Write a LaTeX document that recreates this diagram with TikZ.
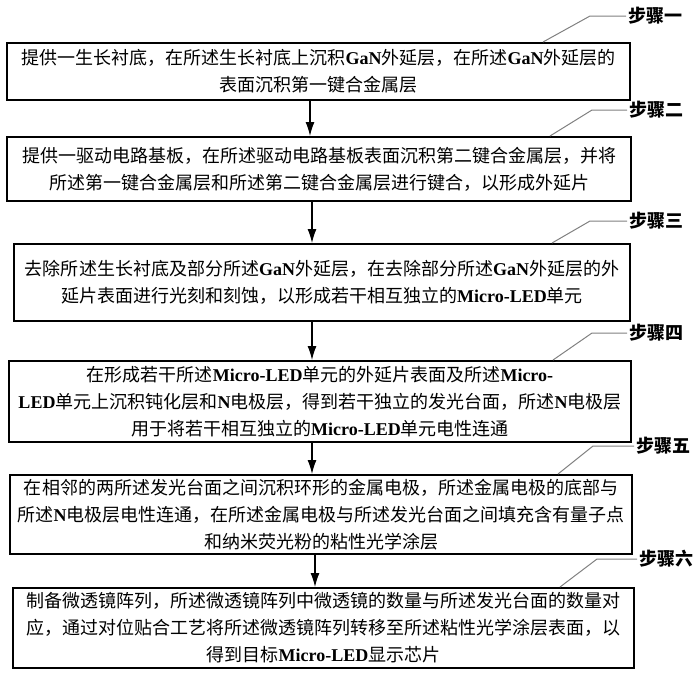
\documentclass[tikz,border=0pt]{standalone}
\usepackage{fontspec}
\setmainfont{Noto Sans CJK SC}
\newfontfamily\timesfont{Liberation Serif}
\usetikzlibrary{arrows.meta,%
		positioning}
\newcommand{\lat}[1]{{\timesfont\bfseries #1}}

\begin{document}
\begin{tikzpicture}[x=.5pt,y=-.5pt,font=\fontsize{9pt}{13.5pt}\selectfont,
	stepbox/.style={draw,line width=1pt,align=center,inner xsep=0pt,inner ysep=0pt},
	freccia/.style={-{Latex[length=7pt,width=4.5pt]},line width=.6pt},
	guida/.style={gray,line width=.5pt},
	passo/.style={anchor=west,inner sep=1pt,font=\fontsize{9pt}{11pt}\selectfont\bfseries}]
\useasboundingbox (0,0) rectangle (700,676);

%i riquadri
\node[stepbox,text width=311.5pt,minimum height=28.5pt] (s1) at (318.5,71.5)
{提供一生长衬底，在所述生长衬底上沉积\lat{GaN}外延层，在所述\lat{GaN}外延层的\\
表面沉积第一键合金属层};
\node[stepbox,text width=312pt,minimum height=32pt] (s2) at (319,169)
{提供一驱动电路基板，在所述驱动电路基板表面沉积第二键合金属层，并将\\
所述第一键合金属层和所述第二键合金属层进行键合，以形成外延片};
\node[stepbox,text width=308pt,minimum height=38.5pt] (s3) at (322,282.5)
{去除所述生长衬底及部分所述\lat{GaN}外延层，在去除部分所述\lat{GaN}外延层的外\\
延片表面进行光刻和刻蚀，以形成若干相互独立的\lat{Micro-LED}单元};
\node[stepbox,text width=311pt,minimum height=40.5pt] (s4) at (320,401.5)
{在形成若干所述\lat{Micro-LED}单元的外延片表面及所述\lat{Micro-}\\
\lat{LED}单元上沉积钝化层和\lat{N}电极层，得到若干独立的发光台面，所述\lat{N}电极层\\
用于将若干相互独立的\lat{Micro-LED}单元电性连通};
\node[stepbox,text width=311pt,minimum height=39.5pt] (s5) at (321,514.5)
{在相邻的两所述发光台面之间沉积环形的金属电极，所述金属电极的底部与\\
所述\lat{N}电极层电性连通，在所述金属电极与所述发光台面之间填充含有量子点\\
和纳米荧光粉的粘性光学涂层};
\node[stepbox,text width=310.5pt,minimum height=40pt] (s6) at (323.5,628)
{制备微透镜阵列，所述微透镜阵列中微透镜的数量与所述发光台面的数量对\\
应，通过对位贴合工艺将所述微透镜阵列转移至所述粘性光学涂层表面，以\\
得到目标\lat{Micro-LED}显示芯片};

%le frecce
\draw[freccia] ([xshift=-4.25pt]s1.south) -- ([xshift=-4.25pt]s1.south |- s2.north);
\draw[freccia] ([xshift=-3.5pt]s2.south) -- ([xshift=-3.5pt]s2.south |- s3.north);
\draw[freccia] ([xshift=-5pt]s3.south) -- ([xshift=-5pt]s3.south |- s4.north);
\draw[freccia] ([xshift=-4pt]s4.south) -- ([xshift=-4pt]s4.south |- s5.north);
\draw[freccia] ([xshift=-3pt]s5.south) -- ([xshift=-3pt]s5.south |- s6.north);

%le etichette
\node[passo] (p1) at (626,16) {步骤一};
\node[passo] (p2) at (627,110) {步骤二};
\node[passo] (p3) at (627,221) {步骤三};
\node[passo] (p4) at (627,333) {步骤四};
\node[passo] (p5) at (634,446) {步骤五};
\node[passo] (p6) at (637,559) {步骤六};
\draw[guida] ([xshift=112.25pt]s1.north) -- (590,16) -- (p1.west);
\draw[guida] ([xshift=115.5pt]s2.north) -- (592,110) -- (p2.west);
\draw[guida] ([xshift=115pt]s3.north) -- (590,221) -- (p3.west);
\draw[guida] ([xshift=116.5pt]s4.north) -- (592,333) -- (p4.west);
\draw[guida] ([xshift=118.5pt]s5.north) -- (593,446) -- (p5.west);
\draw[guida] ([xshift=118.25pt]s6.north) -- (597,559) -- (p6.west);

\end{tikzpicture}
\end{document}
